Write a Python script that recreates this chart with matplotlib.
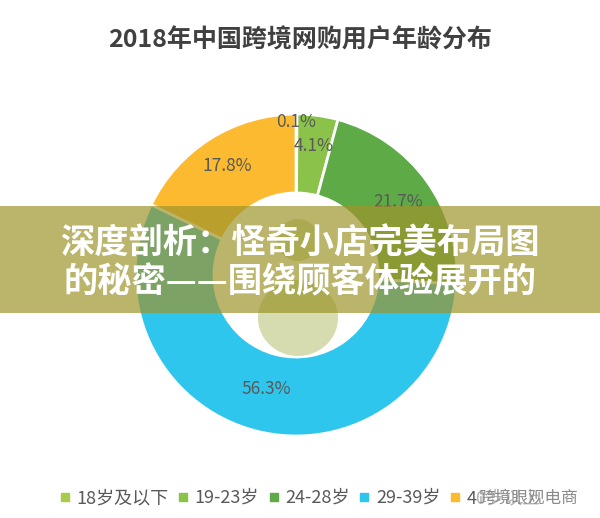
import matplotlib
matplotlib.use("Agg")
import matplotlib.pyplot as plt
from matplotlib.patches import Rectangle, Circle, Ellipse
from matplotlib.lines import Line2D
import numpy as np

plt.rcParams['font.family'] = ['Noto Sans CJK SC', 'DejaVu Sans']

title = '2018年中国跨境网购用户年龄分布'
groups = ['18岁及以下', '19-23岁', '24-28岁', '29-39岁', '40岁以上']
shares = [0.1, 4.1, 21.7, 56.3, 17.8]
colors = ['#A9CB4A', '#8BC34A', '#5DAA46', '#2FC6EE', '#FBBA2F']
label_r = [0.95, 0.81, 0.78, 0.73, 0.80]   # label distance, fraction of radius

banner_lines = ['深度剖析：怪奇小店完美布局图', '的秘密——围绕顾客体验展开的']
watermark = '跨境眼观电商'

W, H = 600, 518
fig = plt.figure(figsize=(W / 100, H / 100), dpi=100)
ax = fig.add_axes([0, 0, 1, 1])

cx, cy = 296, H - 275
R, r_in = 161, 82

wedges, _ = ax.pie(shares, colors=colors, startangle=90, counterclock=False,
                   center=(cx, cy), radius=R,
                   wedgeprops=dict(width=R - r_in, edgecolor='white', linewidth=2))

for w, v, f in zip(wedges, shares, label_r):
    mid = np.deg2rad((w.theta1 + w.theta2) / 2)
    ax.text(cx + f * R * np.cos(mid), cy + f * R * np.sin(mid), f'{v}%',
            ha='center', va='center', fontsize=12.5, color='#595959')

ax.set_xlim(0, W)
ax.set_ylim(0, H)
ax.axis('off')

# overlay banner
top, bot = 206, 313
ax.add_patch(Rectangle((0, H - bot), W, bot - top, facecolor='#9F942C', alpha=0.7,
                       edgecolor='none', zorder=5))
band_clip = Rectangle((0, H - bot), W, bot - top, transform=ax.transData)
head = Circle((cx + 2, H - 240), 21, facecolor='#8E9A1E', alpha=0.35,
              edgecolor='none', zorder=6)
body = Ellipse((cx + 2, H - 318), 80, 76, facecolor='#8E9A1E', alpha=0.35,
               edgecolor='none', zorder=6)
for p in (head, body):
    p.set_clip_path(band_clip)
    ax.add_patch(p)
for i, line in enumerate(banner_lines):
    ax.text(W / 2, H - (243 + 39 * i), line, ha='center', va='center',
            fontsize=24.7, fontweight='heavy', color='white', zorder=7)

fig.text(0.5, 1 - 40 / H, title, ha='center', va='center', fontsize=18,
         fontweight='bold', color='#404040')

handles = [Line2D([], [], marker='s', linestyle='none', markersize=6,
                  markerfacecolor=c, markeredgecolor=c) for c in colors]
fig.legend(handles, groups, loc='center', bbox_to_anchor=(0.5, 1 - 498 / H), ncol=5,
           frameon=False, fontsize=13, labelcolor='#595959', handlelength=0.6,
           handletextpad=0.35, columnspacing=0.5)

fig.text(478 / W, 1 - 498 / H, watermark, ha='left', va='center', fontsize=12,
         color='#8a8a8a', zorder=10,
         bbox=dict(facecolor='white', alpha=0.55, edgecolor='none', pad=1))

fig.savefig('out.png', dpi=100, facecolor='white')
